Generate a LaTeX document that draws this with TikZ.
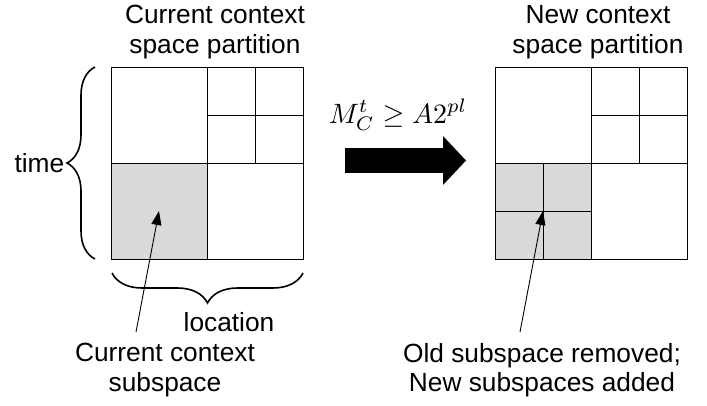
\documentclass[tikz,border=0pt]{standalone}
\usepackage[no-math]{fontspec}
\setsansfont{Liberation Sans}
\usetikzlibrary{arrows.meta, decorations.pathreplacing, positioning}
\definecolor{cellgray}{RGB}{217,217,217}

\begin{document}
\begin{tikzpicture}[x=1pt, y=-1pt,
  lbl/.style={font=\sffamily\fontsize{26.3}{29.5}\selectfont, align=center, inner sep=0pt},
  grid/.style={draw, line width=1pt},
  cell/.style={draw, line width=1pt, fill=cellgray, minimum size=96pt, inner sep=0pt},
  brc/.style={decorate, decoration={brace, amplitude=28pt}, line width=1.6pt},
  ptr/.style={-{Triangle[length=14pt, width=10pt]}, line width=0.9pt}
]
  \useasboundingbox (0,0) rectangle (707,405);

  % current partition
  \node[cell] (cursel) at (159,211) {};
  \draw[grid] (111,67) rectangle (303,259);
  \draw[grid] (207,67) -- (207,259) (111,163) -- (303,163);
  \draw[grid] (255,67) -- (255,163) (207,115) -- (303,115);

  % new partition
  \node[cell] (newsel) at (543,211) {};
  \draw[grid] (495,67) rectangle (687,259);
  \draw[grid] (591,67) -- (591,259) (495,163) -- (687,163);
  \draw[grid] (639,67) -- (639,163) (591,115) -- (687,115);
  \draw[grid] (543,163) -- (543,259) (495,211) -- (591,211);

  % axes
  \draw[brc] (95,259) -- (95,67) node[midway, left=30pt, lbl] (timelbl) {time};
  \draw[brc, decoration={amplitude=30pt}] (303,273) -- (112,273);
  \node[lbl] (loclbl) at (229,322) {location};

  % titles
  \node[lbl] (curtitle) at (215,32) {Current context\\space partition};
  \node[lbl] (newtitle) at (598,32) {New context\\space partition};

  % refinement step
  \coordinate (stepfrom) at (345,160.5);
  \coordinate (stepto) at (466,160.5);
  \draw[line width=25pt, -{Triangle[length=23pt, width=49pt, line width=0pt]}] (stepfrom) -- (stepto);
  \node[scale=2.8] (cond) at (398,115) {$M_C^t \geq A2^{pl}$};

  % subspace labels
  \node[lbl] (curlbl) at (165,370) {Current context\\subspace};
  \node[lbl] (newlbl) at (542,370) {Old subspace removed;\\New subspaces added};
  \coordinate (curtail) at (136,332);
  \coordinate (newtail) at (520,332);
  \draw[ptr] (curtail) -- (cursel.center);
  \draw[ptr] (newtail) -- (newsel.center);
\end{tikzpicture}
\end{document}
